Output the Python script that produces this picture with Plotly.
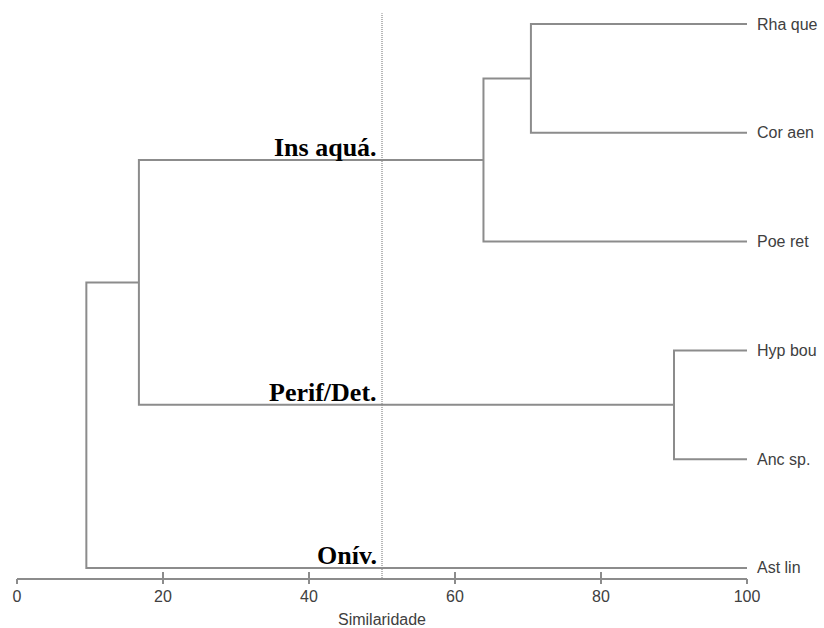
import plotly.graph_objects as go

# ---- data ----
leaves = ["Rha que", "Cor aen", "Poe ret", "Hyp bou", "Anc sp.", "Ast lin"]
# merges: (child A, child B, similarity at which they join)
merge_a = ["Rha que", "C1", "Hyp bou", "C2", "C4"]
merge_b = ["Cor aen", "Poe ret", "Anc sp.", "C3", "Ast lin"]
merge_h = [70.4, 63.9, 90.0, 16.7, 9.5]
merge_name = ["C1", "C2", "C3", "C4", "C5"]
cut_level = 50
group_labels = ["Ins aquá.", "Perif/Det.", "Onív."]
group_nodes = ["C2", "C3", "Ast lin"]
x_ticks = [0, 20, 40, 60, 80, 100]
x_title = "Similaridade"

# ---- build dendrogram geometry ----
n = len(leaves)
pos = {name: (100.0, float(n - 1 - i)) for i, name in enumerate(leaves)}
xs, ys = [], []
for a, b, h, nm in zip(merge_a, merge_b, merge_h, merge_name):
    xa, ya = pos[a]
    xb, yb = pos[b]
    xs += [xa, h, h, xb, None]
    ys += [ya, ya, yb, yb, None]
    pos[nm] = (h, (ya + yb) / 2)

line_col = "#8c8c8c"
fig = go.Figure()

ymin, ymax = -0.092, 5.129
# cut line
fig.add_trace(go.Scatter(x=[cut_level, cut_level], y=[ymin, 5.1], mode="lines",
                         line=dict(color="#a0a0a0", width=1.5, dash="1px,1px"),
                         hoverinfo="skip", showlegend=False))

fig.add_trace(go.Scatter(x=xs, y=ys, mode="lines",
                         line=dict(color=line_col, width=2),
                         hoverinfo="skip", showlegend=False))

# leaf labels
for name in leaves:
    x, y = pos[name]
    fig.add_annotation(x=x, y=y, text=name, showarrow=False, xanchor="left",
                       yanchor="middle", xshift=8,
                       font=dict(family="Liberation Sans, Arial", size=16, color="#404040"))

# group labels
for lab, node in zip(group_labels, group_nodes):
    x, y = pos[node]
    fig.add_annotation(x=cut_level, y=y, text="<b>" + lab + "</b>", showarrow=False,
                       xanchor="right", yanchor="bottom", xshift=-3, yshift=-4,
                       font=dict(family="Liberation Serif, Times New Roman", size=26, color="#000000"))

fig.update_layout(
    width=824, height=628,
    margin=dict(l=17, r=77, t=10, b=50, autoexpand=False),
    paper_bgcolor="white", plot_bgcolor="white",
    xaxis=dict(range=[0, 100], tickvals=x_ticks, ticks="inside", ticklen=6,
               tickcolor=line_col, tickwidth=1.5, showline=True, linecolor=line_col,
               linewidth=2, showgrid=False, zeroline=False, ticklabelstandoff=3,
               automargin=False,
               tickfont=dict(family="Liberation Sans, Arial", size=16, color="#404040"),
               title=dict(text=x_title, standoff=10,
                          font=dict(family="Liberation Sans, Arial", size=16, color="#404040"))),
    xaxis2=dict(range=[0, 100], overlaying="x", side="bottom", tickvals=x_ticks,
                ticks="outside", ticklen=5, tickcolor=line_col, tickwidth=1.5,
                showticklabels=False, showgrid=False, zeroline=False, showline=False,
                automargin=False),
    yaxis=dict(range=[ymin, ymax], visible=False, automargin=False),
)
# invisible trace to activate xaxis2
fig.add_trace(go.Scatter(x=[0], y=[ymin], xaxis="x2", mode="markers",
                         marker=dict(opacity=0), hoverinfo="skip", showlegend=False))

fig.write_html("out.html")
